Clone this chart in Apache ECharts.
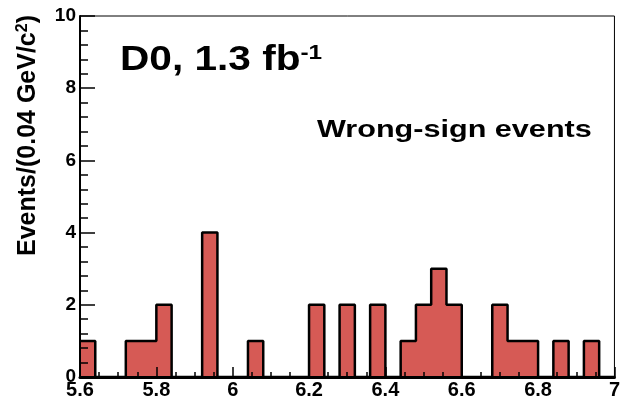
<!DOCTYPE html>
<html>
<head>
<meta charset="utf-8">
<script src="https://cdn.jsdelivr.net/npm/echarts@6/dist/echarts.min.js"></script>
<style>
  html, body { margin: 0; padding: 0; background: #fff; }
  #chart { width: 623px; height: 400px; }
</style>
</head>
<body>
<div id="chart"></div>
<script>
  // bin edges (GeV/c^2), 0.04 wide
  const binEdges = [
    5.60, 5.64, 5.68, 5.72, 5.76, 5.80, 5.84, 5.88, 5.92, 5.96,
    6.00, 6.04, 6.08, 6.12, 6.16, 6.20, 6.24, 6.28, 6.32, 6.36,
    6.40, 6.44, 6.48, 6.52, 6.56, 6.60, 6.64, 6.68, 6.72, 6.76,
    6.80, 6.84, 6.88, 6.92, 6.96, 7.00
  ];
  // events per bin
  const counts = [
    1, 0, 0, 1, 1, 2, 0, 0, 4, 0,
    0, 1, 0, 0, 0, 2, 0, 2, 0, 2,
    0, 1, 2, 3, 2, 0, 0, 2, 1, 1,
    0, 1, 0, 1, 0
  ];
  const xTicks = [5.6, 5.8, 6, 6.2, 6.4, 6.6, 6.8, 7];
  const yTicks = [0, 2, 4, 6, 8, 10];

  const fontFam = '"Liberation Sans", Arial, sans-serif';

  // step line: each point at left edge, last point closes at upper edge
  const stepData = binEdges.map((e, i) => [e, i < counts.length ? counts[i] : counts[counts.length - 1]]);

  const myChart = echarts.init(document.getElementById("chart"));
  const option = {
    animation: false,
    grid: {
      left: 80, right: 5, top: 16, bottom: 21,
      show: true, borderColor: "#000", borderWidth: 1
    },
    xAxis: {
      type: "value",
      min: xTicks[0], max: xTicks[xTicks.length - 1], interval: 0.2,
      z: 5,
      axisLine: { lineStyle: { color: "#000", width: 3 } },
      axisTick: { inside: true, length: 10, lineStyle: { color: "#000", width: 1.5 } },
      minorTick: { show: true, splitNumber: 4, length: 5, lineStyle: { color: "#000", width: 1.5 } },
      splitLine: { show: false },
      axisLabel: {
        margin: 3, color: "#000", fontFamily: fontFam, fontWeight: "bold", fontSize: 20,
        showMinLabel: true, showMaxLabel: true
      }
    },
    yAxis: {
      type: "value",
      min: yTicks[0], max: yTicks[yTicks.length - 1], interval: 2,
      z: 5,
      axisLine: { show: true, lineStyle: { color: "#000", width: 2 } },
      axisTick: { show: true, inside: true, length: 15, lineStyle: { color: "#000", width: 1.5 } },
      minorTick: { show: true, splitNumber: 5, length: 8, lineStyle: { color: "#000", width: 1.5 } },
      splitLine: { show: false },
      axisLabel: {
        margin: 4, color: "#000", fontFamily: fontFam, fontWeight: "bold", fontSize: 19
      }
    },
    series: [
      {
        type: "line",
        step: "end",
        data: stepData,
        symbol: "none",
        z: 2,
        lineStyle: { color: "#000", width: 2.5 },
        areaStyle: { color: "#d65a55", opacity: 1 }
      }
    ],
    graphic: [
      {
        type: "text",
        x: 120, y: 60,
        scaleX: 1.16,
        style: {
          text: "{m|D0, 1.3 fb}{s|-1}",
          fill: "#000",
          verticalAlign: "middle",
          rich: {
            m: { fontFamily: fontFam, fontWeight: "bold", fontSize: 35, fill: "#000" },
            s: { fontFamily: fontFam, fontWeight: "bold", fontSize: 21, fill: "#000", verticalAlign: "top", padding: [0, 0, 14, 0] }
          }
        }
      },
      {
        type: "text",
        x: 317, y: 131,
        scaleX: 1.33,
        style: {
          text: "Wrong-sign events",
          fill: "#000",
          fontFamily: fontFam, fontWeight: "bold", fontSize: 23,
          verticalAlign: "middle"
        }
      },
      {
        type: "text",
        x: 28, y: 15,
        rotation: Math.PI / 2,
        style: {
          text: "{m|Events/(0.04 GeV/c}{s|2}{m|)}",
          align: "right",
          verticalAlign: "middle",
          rich: {
            m: { fontFamily: fontFam, fontWeight: "bold", fontSize: 25, fill: "#000" },
            s: { fontFamily: fontFam, fontWeight: "bold", fontSize: 16, fill: "#000", verticalAlign: "top", padding: [0, 0, 10, 0] }
          }
        }
      }
    ]
  };
  myChart.setOption(option);
</script>
</body>
</html>
